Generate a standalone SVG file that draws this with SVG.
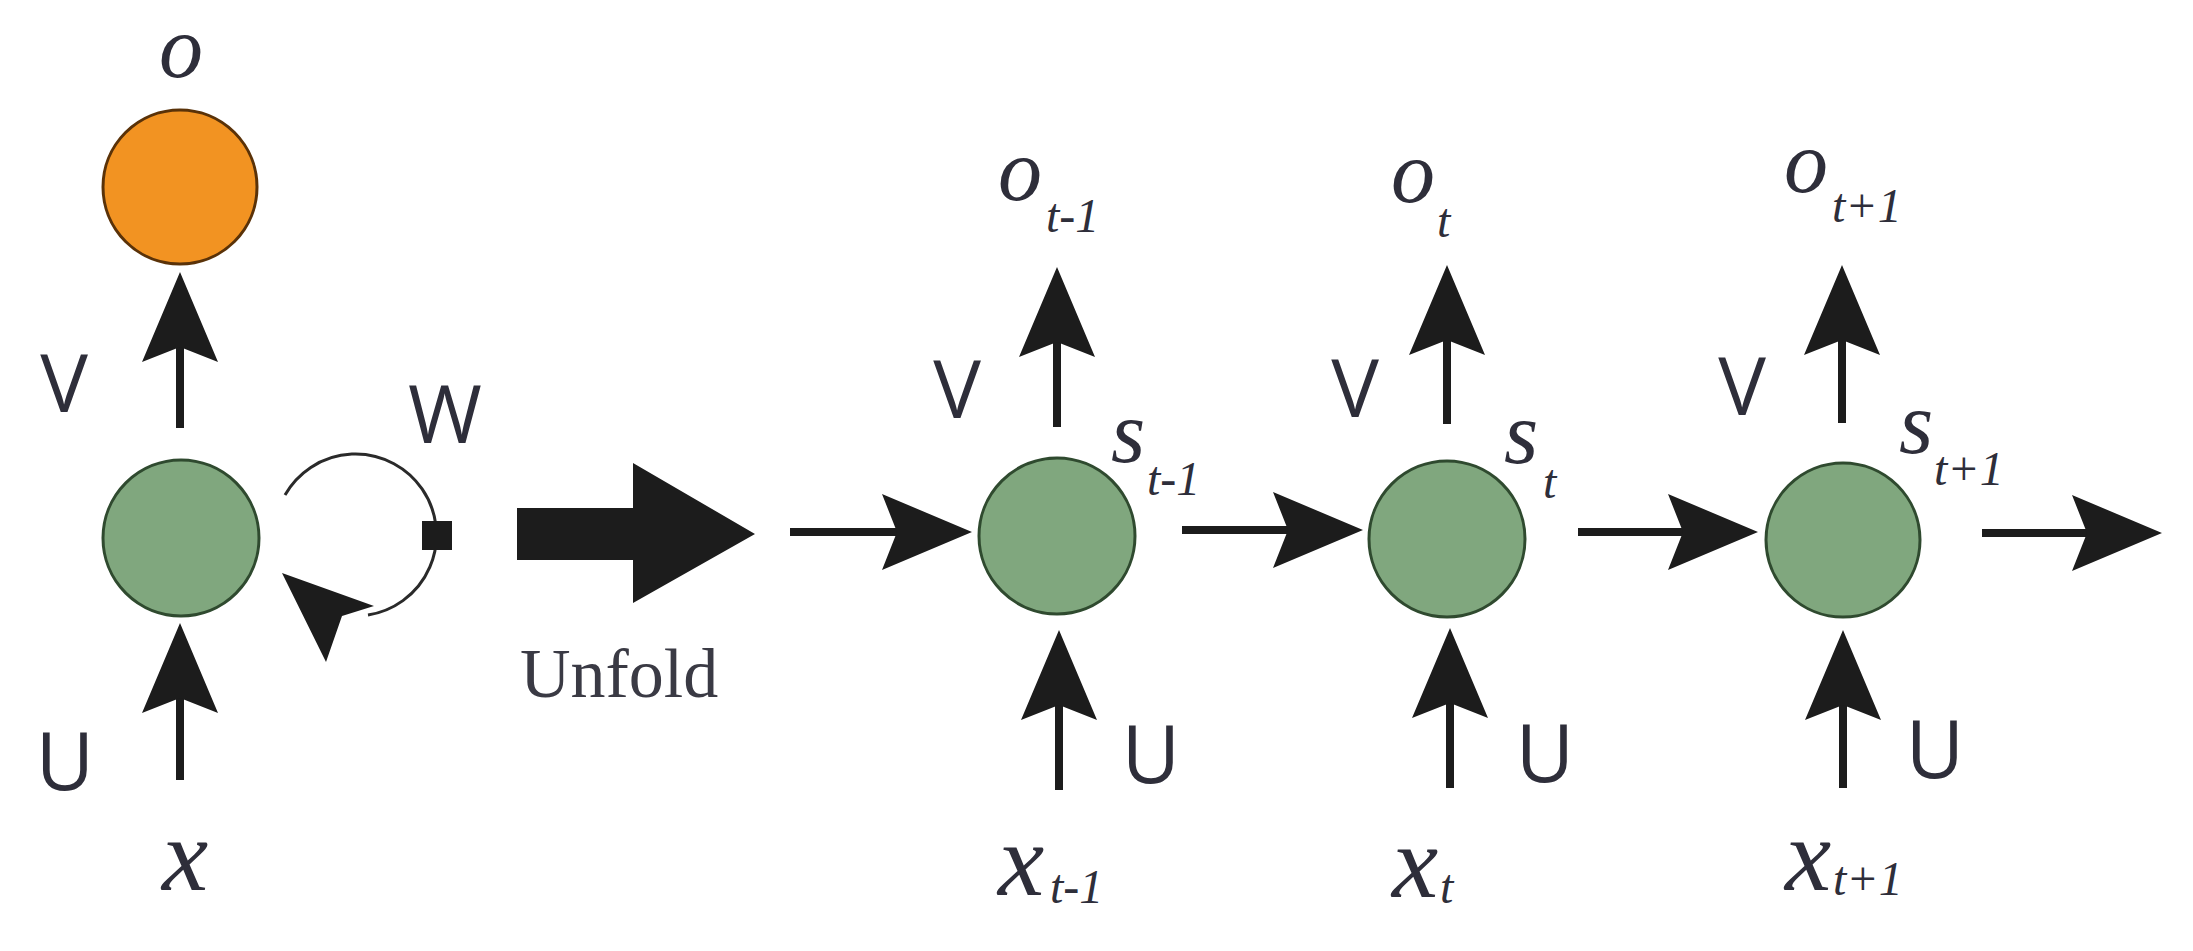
<svg xmlns="http://www.w3.org/2000/svg" width="2193" height="951" viewBox="0 0 2193 951">
<defs>
<style>
.lbl{font-family:"Open Sans","Liberation Sans",sans-serif;font-size:80px;fill:#2e2e3a;text-anchor:middle}
.it{font-family:"Liberation Serif","Times New Roman",serif;font-style:italic;font-size:88px;fill:#2e2e3a}
.xv{font-family:"Liberation Serif","Times New Roman",serif;font-style:italic;font-size:104px;fill:#2e2e3a}
.sub{font-size:48px}
.unfold{font-family:"Liberation Serif","Times New Roman",serif;font-size:70px;fill:#3a3a44}
.edge{stroke:#1c1c1c;stroke-width:8;fill:none;marker-end:url(#ah)}
.green{fill:#80a77e;stroke:#2f4a2f;stroke-width:3}
.orange{fill:#f29322;stroke:#5a3208;stroke-width:3}
</style>
<marker id="ah" markerUnits="userSpaceOnUse" viewBox="-20 -50 100 100" markerWidth="100" markerHeight="100" refX="0" refY="0" orient="auto" overflow="visible">
<path d="M-15,-38 L75,0 L-15,38 L0,0 Z" fill="#1c1c1c"/>
</marker>
</defs>
<rect width="2193" height="951" fill="#ffffff"/>

<g id="connectors">
<line class="edge" x1="180" y1="428" x2="180" y2="347"/>
<line class="edge" x1="180" y1="780" x2="180" y2="698"/>
<path d="M285,495 A81,81 0 1 1 368,615" fill="none" stroke="#2a2a2a" stroke-width="3"/>
<polygon points="282,573 374,606 342,616 326,662" fill="#1c1c1c"/>
<rect x="422" y="521" width="30" height="29" fill="#1c1c1c"/>
<polygon points="517,508 633,508 633,463 755,534 633,603 633,560 517,560" fill="#1c1c1c"/>
<line class="edge" x1="790" y1="532" x2="897" y2="532"/>
<line class="edge" x1="1057" y1="427" x2="1057" y2="342"/>
<line class="edge" x1="1059" y1="790" x2="1059" y2="705"/>
<line class="edge" x1="1182" y1="530" x2="1288" y2="530"/>
<line class="edge" x1="1447" y1="424" x2="1447" y2="340"/>
<line class="edge" x1="1450" y1="788" x2="1450" y2="703"/>
<line class="edge" x1="1578" y1="532" x2="1683" y2="532"/>
<line class="edge" x1="1842" y1="423" x2="1842" y2="340"/>
<line class="edge" x1="1843" y1="788" x2="1843" y2="705"/>
<line class="edge" x1="1982" y1="533" x2="2087" y2="533"/>
</g>

<g id="node-o">
<circle class="orange" cx="180" cy="187" r="77"/>
<text class="it" x="159" y="77">o</text>
</g>
<g id="node-s">
<circle class="green" cx="181" cy="538" r="78"/>
</g>
<g id="label-V-left"><text class="lbl" x="64" y="412">V</text></g>
<g id="label-W"><text class="lbl" x="445" y="443">W</text></g>
<g id="label-U-left"><text class="lbl" x="65" y="790">U</text></g>
<g id="label-x"><text class="xv" x="162" y="890">x</text></g>
<g id="label-unfold"><text class="unfold" x="520" y="697">Unfold</text></g>

<g id="node-st-1">
<circle class="green" cx="1057" cy="536" r="78"/>
<text class="it" x="998" y="200">o<tspan class="sub" x="1046" y="232">t-1</tspan></text>
<text class="lbl" x="957" y="418">V</text>
<text class="it" x="1111" y="462">s<tspan class="sub" x="1147" y="495">t-1</tspan></text>
<text class="lbl" x="1151" y="783">U</text>
<text class="xv" x="998" y="895">x<tspan class="sub" x="1050" y="903">t-1</tspan></text>
</g>

<g id="node-st">
<circle class="green" cx="1447" cy="539" r="78"/>
<text class="it" x="1391" y="202">o<tspan class="sub" x="1437" y="237">t</tspan></text>
<text class="lbl" x="1355" y="417">V</text>
<text class="it" x="1504" y="463">s<tspan class="sub" x="1543" y="498">t</tspan></text>
<text class="lbl" x="1545" y="782">U</text>
<text class="xv" x="1392" y="897">x<tspan class="sub" x="1440" y="903">t</tspan></text>
</g>

<g id="node-st+1">
<circle class="green" cx="1843" cy="540" r="77"/>
<text class="it" x="1784" y="192">o<tspan class="sub" x="1832" y="222">t+1</tspan></text>
<text class="lbl" x="1742" y="415">V</text>
<text class="it" x="1899" y="453">s<tspan class="sub" x="1934" y="485">t+1</tspan></text>
<text class="lbl" x="1935" y="778">U</text>
<text class="xv" x="1785" y="890">x<tspan class="sub" x="1833" y="895">t+1</tspan></text>
</g>
</svg>
